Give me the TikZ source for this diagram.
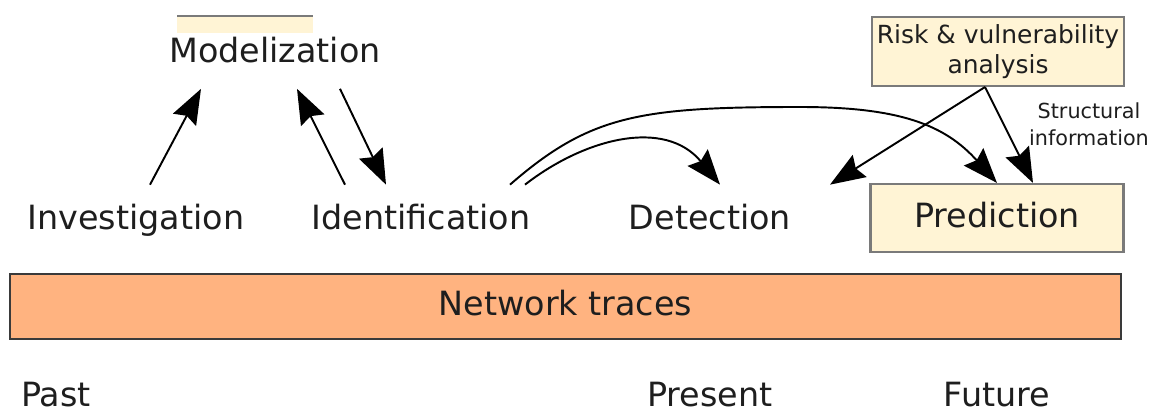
\documentclass[tikz,border=0pt]{standalone}
\usepackage{fontspec}
\setmainfont{DejaVu Sans}
\usepackage{tikz}
\usetikzlibrary{arrows.meta}
\definecolor{boxyellow}{HTML}{FFF4D5}
\definecolor{boxgray}{HTML}{7A7A7A}
\definecolor{traceorange}{HTML}{FFB380}
\definecolor{tracegray}{HTML}{3A3A3A}
\definecolor{textgray}{HTML}{1E1E1E}
\tikzset{textnode/.style={inner sep=0pt, minimum height=1.4cm, text height=0.52cm, text depth=0.14cm, text=textgray, font=\fontsize{19}{23}\selectfont}}
\tikzset{timelabel/.style={inner sep=0pt, anchor=base, text=textgray, font=\fontsize{19}{23}\selectfont}}
\tikzset{yellowbox/.style={draw=boxgray, line width=1.2pt, fill=boxyellow, inner sep=0pt}}
\tikzset{bigarrow/.style={line width=1.1pt, -{Stealth[length=0.7cm, width=0.52cm, inset=0.09cm]}}}

\begin{document}
\begin{tikzpicture}[x=0.02cm, y=-0.02cm]
\useasboundingbox (0,0) rectangle (1157,412);
\fill[color = boxyellow] (177,16) rectangle (313,33);
\draw[color = boxgray, line width=1.2pt] (177,16) -- (313,16);
\node[style=textnode] (mod) at (275,53.5) {Modelization};
\node[style=textnode] (inv) at (136,220) {Investigation};
\node[style=textnode] (ident) at (421,220) {Identification};
\node[style=textnode] (det) at (710,220) {Detection};
\node[style=textnode, style=yellowbox, minimum width=5.06cm, minimum height=1.36cm] (pred) at (997,218) {Prediction};
\node[style=yellowbox, minimum width=5.04cm, minimum height=1.38cm, align=center, text=textgray, font=\fontsize{14.2}{17}\selectfont] (risk) at (998,51.5) {Risk \& vulnerability\\analysis};
\node[align=center, inner sep=0pt, text=textgray, font=\fontsize{11.8}{15.3}\selectfont] (struct) at (1089,124) {Structural\\information};
\node[style=textnode, draw=tracegray, fill=traceorange, line width=1.2pt, minimum width=22.22cm, minimum height=1.3cm] (traces) at (565.5,306.5) {Network traces};
\node[style=timelabel] (past) at (56,406) {Past};
\node[style=timelabel] (present) at (710,406) {Present};
\node[style=timelabel] (future) at (997,406) {Future};

\draw[bigarrow] ([shift={(14,0)}]inv.north) -- ([shift={(-74,0)}]mod.south);
\draw[bigarrow] ([shift={(-76,0)}]ident.north) -- ([shift={(22,0)}]mod.south);
\draw[bigarrow] ([shift={(65,0)}]mod.south) -- ([shift={(-35,0)}]ident.north);
\draw[bigarrow] ([shift={(104,0)}]ident.north) .. controls (585,138) and (665,118) .. ([shift={(10,0)}]det.north);
\draw[bigarrow] ([shift={(89,0)}]ident.north) .. controls (590,115) and (640,107) .. (800,107) .. controls (900,107) and (945,125) .. (pred.north);
\draw[bigarrow] ([shift={(-13,0)}]risk.south) -- ([shift={(120,0)}]det.north);
\draw[bigarrow] ([shift={(-13,0)}]risk.south) -- ([shift={(36,0)}]pred.north);
\end{tikzpicture}
\end{document}
